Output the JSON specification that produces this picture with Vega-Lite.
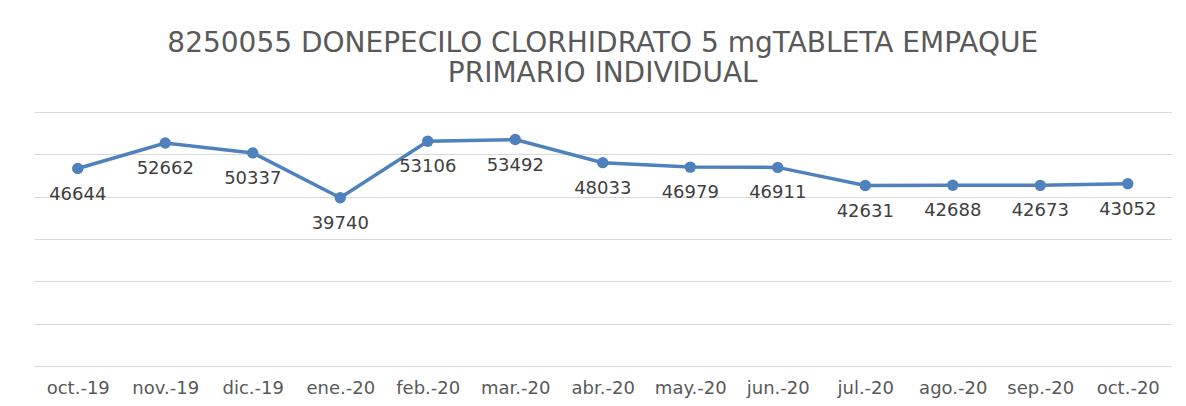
{
  "$schema": "https://vega.github.io/schema/vega-lite/v6.json",
  "width": 1137.5,
  "height": 254,
  "padding": {"left": 34, "top": 30, "right": 14, "bottom": 5},
  "background": "white",
  "title": {
    "text": ["8250055 DONEPECILO CLORHIDRATO 5 mgTABLETA EMPAQUE", "PRIMARIO INDIVIDUAL"],
    "font": "DejaVu Sans",
    "fontSize": 28,
    "fontWeight": "normal",
    "color": "#595959",
    "lineHeight": 30,
    "anchor": "middle",
    "offset": 24
  },
  "data": {
    "values": [
      {"mes": "oct.-19", "valor": 46644},
      {"mes": "nov.-19", "valor": 52662},
      {"mes": "dic.-19", "valor": 50337},
      {"mes": "ene.-20", "valor": 39740},
      {"mes": "feb.-20", "valor": 53106},
      {"mes": "mar.-20", "valor": 53492},
      {"mes": "abr.-20", "valor": 48033},
      {"mes": "may.-20", "valor": 46979},
      {"mes": "jun.-20", "valor": 46911},
      {"mes": "jul.-20", "valor": 42631},
      {"mes": "ago.-20", "valor": 42688},
      {"mes": "sep.-20", "valor": 42673},
      {"mes": "oct.-20", "valor": 43052}
    ]
  },
  "encoding": {
    "x": {
      "field": "mes", "type": "ordinal", "sort": null,
      "scale": {"type": "point", "padding": 0.5},
      "axis": {
        "title": null, "labelAngle": 0, "ticks": false,
        "domainColor": "#d9d9d9", "domainWidth": 1,
        "labelFont": "DejaVu Sans", "labelFontSize": 18, "labelColor": "#595959",
        "labelPadding": 13
      }
    },
    "y": {
      "field": "valor", "type": "quantitative",
      "scale": {"domain": [0, 60000], "nice": false},
      "axis": {
        "title": null, "labels": false, "ticks": false, "domain": false,
        "values": [0, 10000, 20000, 30000, 40000, 50000, 60000],
        "gridColor": "#d9d9d9", "gridWidth": 1
      }
    }
  },
  "layer": [
    {
      "mark": {"type": "line", "color": "#4f81bd", "strokeWidth": 3.5,
        "point": {"filled": true, "size": 130, "color": "#4f81bd"}}
    },
    {
      "mark": {"type": "text", "dy": 26, "baseline": "middle", "align": "center",
        "font": "DejaVu Sans", "fontSize": 18, "color": "#404040"},
      "encoding": {"text": {"field": "valor", "type": "quantitative", "format": "d"}}
    }
  ],
  "config": {"view": {"stroke": null}}
}
